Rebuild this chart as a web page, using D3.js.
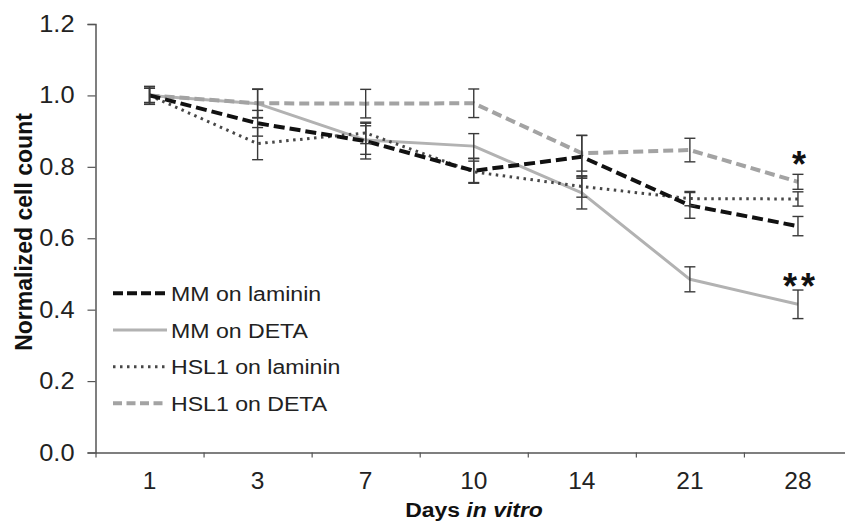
<!DOCTYPE html>
<html>
<head>
<meta charset="utf-8">
<script src="https://cdn.jsdelivr.net/npm/d3@7"></script>
<style>
  html, body { margin: 0; padding: 0; background: #fff; }
  svg { display: block; font-family: "Liberation Sans", Arial, sans-serif; }
</style>
</head>
<body>
<svg id="chart" width="845" height="523"></svg>
<script>
// ---- data ----
const days = ["1", "3", "7", "10", "14", "21", "28"];
const yTicks = [0, 0.2, 0.4, 0.6, 0.8, 1.0, 1.2];

const mmLaminin      = [1.000, 0.922, 0.872, 0.789, 0.828, 0.692, 0.634];
const mmLamininErr   = [0.025, 0.036, 0.050, 0.035, 0.060, 0.036, 0.027];
const mmDeta         = [1.000, 0.977, 0.875, 0.858, 0.727, 0.485, 0.415];
const mmDetaErr      = [0.020, 0.040, 0.040, 0.035, 0.045, 0.035, 0.040];
const hslLaminin     = [1.000, 0.865, 0.895, 0.786, 0.745, 0.711, 0.710];
const hslLamininErr  = [0.020, 0.045, 0.030, 0.030, 0.030, 0.020, 0.020];
const hslDeta        = [1.000, 0.978, 0.977, 0.978, 0.838, 0.847, 0.758];
const hslDetaErr     = [0.025, 0.040, 0.040, 0.040, 0.050, 0.033, 0.021];

const seriesNames = ["MM on laminin", "MM on DETA", "HSL1 on laminin", "HSL1 on DETA"];
const seriesValues = [mmLaminin, mmDeta, hslLaminin, hslDeta];
const seriesErrors = [mmLamininErr, mmDetaErr, hslLamininErr, hslDetaErr];

const styles = [
  { color: "#111111", width: 4,   dash: "11,5" },
  { color: "#b2b2b2", width: 3,   dash: null },
  { color: "#474747", width: 3,   dash: "2.5,4.5" },
  { color: "#a3a3a3", width: 4,   dash: "10,5" }
];
const legendDash = ["10,4", null, "2.5,4.5", "9,4.5"];

// ---- layout ----
const svg = d3.select("#chart");
const xLeft = 95.5, xRight = 852, yTop = 24, yBottom = 452.5;

const x = d3.scaleBand().domain(days).range([xLeft, xRight]).padding(0);
const cx = d => x(d) + x.bandwidth() / 2;
const y = d3.scaleLinear().domain([0, 1.2]).range([yBottom, yTop]);

svg.append("rect").attr("width", 845).attr("height", 523).attr("fill", "#fff");

// y axis
const yAxis = svg.append("g")
  .attr("transform", `translate(${xLeft},0)`)
  .call(d3.axisLeft(y).tickValues(yTicks).tickFormat(d3.format(".1f")).tickSize(8).tickPadding(13));
yAxis.select(".domain").attr("stroke", "#555").attr("stroke-width", 1.5);
yAxis.selectAll(".tick line").attr("stroke", "#555").attr("stroke-width", 1.2);
const ySx = 1.08;
yAxis.selectAll(".tick text")
  .attr("font-size", 23.5).attr("fill", "#222")
  .attr("x", -21 / ySx).attr("transform", `scale(${ySx},1)`);

// x axis: boundary tick marks
const xb = d3.scaleLinear().domain([0, days.length]).range([xLeft, xRight]);
const xAxisTicks = svg.append("g")
  .attr("transform", `translate(0,${yBottom})`)
  .call(d3.axisBottom(xb).tickValues(d3.range(0, days.length + 1)).tickFormat("").tickSize(5).tickSizeOuter(0));
xAxisTicks.select(".domain").attr("stroke", "#555").attr("stroke-width", 1.5);
xAxisTicks.selectAll(".tick line").attr("stroke", "#555").attr("stroke-width", 1.2);

// x axis labels
const xAxisLabels = svg.append("g")
  .attr("transform", `translate(0,${yBottom})`)
  .call(d3.axisBottom(x).tickSize(0).tickPadding(19));
xAxisLabels.select(".domain").remove();
xAxisLabels.selectAll(".tick text").attr("font-size", 24.5).attr("fill", "#222");

// axis titles
const yTitle = svg.append("text")
  .attr("transform", "translate(32,232) rotate(-90)")
  .attr("text-anchor", "middle")
  .attr("font-size", 23).attr("font-weight", "bold").attr("fill", "#111");
yTitle.text("Normalized cell count");

const xTitle = svg.append("text")
  .attr("transform", "translate(474,517) scale(1.12,1)")
  .attr("text-anchor", "middle")
  .attr("font-size", 20.5).attr("font-weight", "bold").attr("fill", "#111");
xTitle.append("tspan").text("Days ");
xTitle.append("tspan").attr("font-style", "italic").text("in vitro");

// ---- lines ----
const line = d3.line().x((d, i) => cx(days[i])).y(d => y(d));
const order = [1, 3, 2, 0];
order.forEach(s => {
  svg.append("path")
    .datum(seriesValues[s])
    .attr("fill", "none")
    .attr("stroke", styles[s].color)
    .attr("stroke-width", styles[s].width)
    .attr("stroke-dasharray", styles[s].dash)
    .attr("stroke-linejoin", "round")
    .attr("d", line);
});

// ---- error bars ----
const capHalf = 5.5;
seriesValues.forEach((vals, s) => {
  const g = svg.append("g").attr("stroke", "#3a3a3a").attr("stroke-width", 1.4).attr("fill", "none");
  vals.forEach((v, i) => {
    const e = seriesErrors[s][i];
    const px = cx(days[i]);
    g.append("line").attr("x1", px).attr("x2", px).attr("y1", y(v + e)).attr("y2", y(v - e));
    g.append("line").attr("x1", px - capHalf).attr("x2", px + capHalf).attr("y1", y(v + e)).attr("y2", y(v + e));
    g.append("line").attr("x1", px - capHalf).attr("x2", px + capHalf).attr("y1", y(v - e)).attr("y2", y(v - e));
  });
});

// ---- significance markers ----
const last = days[days.length - 1];
svg.append("text")
  .attr("x", cx(last) + 1).attr("y", 177)
  .attr("text-anchor", "middle").attr("font-size", 36).attr("font-weight", "bold").attr("fill", "#111")
  .text("*");
svg.append("text")
  .attr("x", cx(last) + 3).attr("y", 299)
  .attr("text-anchor", "middle").attr("font-size", 36).attr("font-weight", "bold").attr("fill", "#111")
  .attr("letter-spacing", "4px")
  .text("**");

// ---- legend ----
const legRowY = [293.3, 330, 366.7, 403.3];
const leg = svg.append("g");
seriesNames.forEach((name, s) => {
  const ly = legRowY[s];
  leg.append("line")
    .attr("x1", 113).attr("x2", 167).attr("y1", ly).attr("y2", ly)
    .attr("stroke", styles[s].color)
    .attr("stroke-width", styles[s].width)
    .attr("stroke-dasharray", legendDash[s]);
  leg.append("text")
    .attr("transform", `translate(171,${ly}) scale(1.1,1)`)
    .attr("dy", "0.36em")
    .attr("font-size", 21).attr("fill", "#222")
    .text(name);
});
</script>
</body>
</html>
